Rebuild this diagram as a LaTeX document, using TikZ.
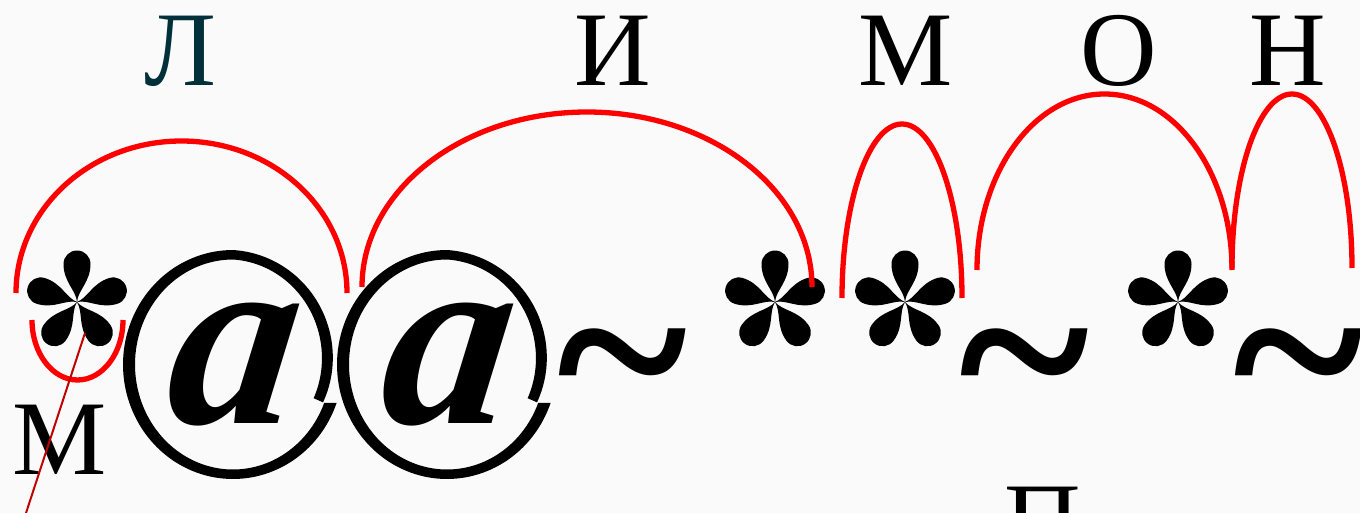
\documentclass[tikz,border=0pt]{standalone}
\usepackage{fontspec}
\setmainfont{Liberation Serif}
\definecolor{bgc}{RGB}{250,250,250}
\definecolor{teal0}{RGB}{0,48,58}
\definecolor{arcred}{RGB}{255,0,0}
\definecolor{linered}{RGB}{192,0,0}
\newcommand\atring[2]{%
  \fill plot[domain=-22:340.4,samples=150,variable=\t]
     ({#1+110*ifthenelse(\t<90,1-0.11*(90-\t)/105,1)*cos(\t)},
      {#2-114.5*ifthenelse(\t<90,1-0.11*(90-\t)/105,1)*sin(\t)})
   -- plot[domain=0:1,samples=150,variable=\s]
     ({#1+98*ifthenelse(338.5-360.5*\s<90,1-0.11*(90-338.5+360.5*\s)/105,1)*cos(338.5-360.5*\s)},
      {#2-105*ifthenelse(338.5-360.5*\s<90,1-0.11*(90-338.5+360.5*\s)/105,1)*sin(338.5-360.5*\s)})
   -- cycle;}
\begin{document}
\begin{tikzpicture}[x=1pt,y=-1pt,
  letter/.style={inner sep=0pt,anchor=base,font=\fontsize{106}{106}\selectfont},
  glyph/.style={inner sep=0pt,anchor=base,font=\fontsize{250}{250}\selectfont\bfseries},
  aglyph/.style={inner sep=0pt,anchor=base,transform shape,font=\fontsize{256}{256}\selectfont\bfseries\itshape},
  redarc/.style={draw=arcred,line width=5.3pt},
  thinline/.style={draw=linered,line width=2pt},
  petal/.pic={\fill (0,0) .. controls (12,1) and (20,13.5) .. (38,13.5)
      arc[start angle=90,end angle=-90,radius=13.5]
      .. controls (20,-13.5) and (12,-1) .. (0,0);},
  asterisk/.pic={
    \pic[rotate=90] {petal}; \pic[rotate=17] {petal}; \pic[rotate=163] {petal};
    \pic[rotate=-54] {petal}; \pic[rotate=-126] {petal};}]
\useasboundingbox (0,0) rectangle (1360,513);
\fill[bgc] (0,0) rectangle (1360,513);
% top letters
\node[letter,text=teal0] (L) at (180,86) {Л};
\node[letter] (I) at (613,86) {И};
\node[letter] (M1) at (906,86) {М};
\node[letter] (O) at (1119,86) {О};
\node[letter] (N) at (1288,86) {Н};
% bottom letters
\node[letter] (M2) at (60,474) {М};
\node[letter] (P) at (1043,556) {П};
% asterisks
\pic at (77,302) {asterisk};
\pic at (775,302) {asterisk};
\pic at (905,302) {asterisk};
\pic at (1178,302) {asterisk};
% at signs
\atring{233}{364.5}
\atring{447}{364.5}
\begin{scope}[shift={(226,423)},xslant=0.13]
  \node[aglyph] (a1) at (0,0) {a};
\end{scope}
\begin{scope}[shift={(440,423)},xslant=0.13]
  \node[aglyph] (a2) at (0,0) {a};
\end{scope}
% tildes
\node[glyph] (t1) at (622,434) {\textasciitilde};
\node[glyph] (t2) at (1024,434) {\textasciitilde};
\node[glyph] (t3) at (1298,434) {\textasciitilde};
% arcs
\draw[redarc] (16,293) arc[start angle=180,end angle=0,x radius=165.5pt,y radius=152pt];
\draw[redarc] (362,287) arc[start angle=180,end angle=0,x radius=225pt,y radius=175pt];
\draw[redarc] (842,298) arc[start angle=180,end angle=0,x radius=60pt,y radius=174pt];
\draw[redarc] (977,270) arc[start angle=180,end angle=0,x radius=127.5pt,y radius=176pt];
\draw[redarc] (1232,268) arc[start angle=180,end angle=0,x radius=60pt,y radius=174pt];
\draw[redarc] (32,320) arc[start angle=180,end angle=360,x radius=45.5pt,y radius=60pt];
% thin line
\coordinate (lt) at (85,333);
\coordinate (lb) at (26,513);
\draw[thinline] (lt) -- (lb);
\end{tikzpicture}
\end{document}
